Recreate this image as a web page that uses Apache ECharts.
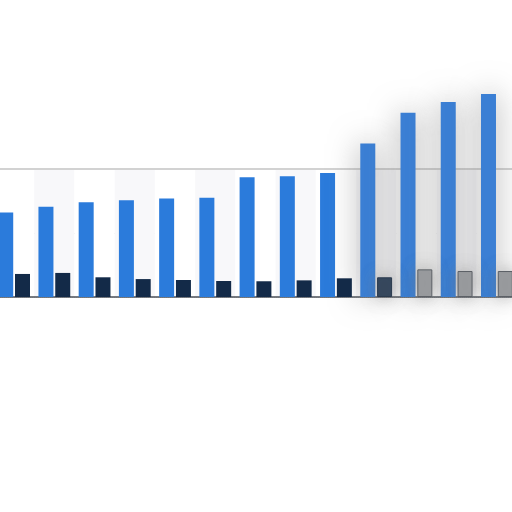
<!DOCTYPE html>
<html>
<head>
<meta charset="utf-8">
<script src="https://cdn.jsdelivr.net/npm/echarts@6/dist/echarts.min.js"></script>
<style>
  html, body { margin: 0; padding: 0; background: #fff; overflow: hidden; }
  #chart { width: 523px; height: 512px; margin-left: -6px; }
</style>
</head>
<body>
<div id="chart"></div>
<script>
// categories and values
var categories = ['1', '2', '3', '4', '5', '6', '7', '8', '9', '10', '11', '12', '13'];
var blueValues = [66, 70.5, 74, 75.5, 77, 77.6, 93.5, 94.3, 96.9, 120, 144, 152.3, 158.6];
var darkValues = [18, 18.8, 15.4, 14, 13.3, 12.5, 12.3, 13, 14.6, 15.4, 21.6, 20.3, 20.3];
var yTicks = [0, 50, 100];

var blurFrom = 9; // bars from here on sit in the grey smudge

var myChart = echarts.init(document.getElementById('chart'));

var blueData = blueValues.map(function(v, i) {
    if (i < blurFrom) return v;
    return {
        value: v,
        itemStyle: { color: '#3b7fd4', shadowBlur: 30, shadowColor: 'rgba(125,125,125,0.65)' }
    };
});
var darkData = darkValues.map(function(v, i) {
    if (i < blurFrom) return v;
    return {
        value: v,
        itemStyle: {
            color: i === blurFrom ? '#34465c' : '#9a9c9f',
            borderColor: i === blurFrom ? '#2a3a4e' : '#5c6066',
            borderWidth: 1,
            shadowBlur: 16,
            shadowColor: 'rgba(120,120,120,0.55)'
        }
    };
});

var option = {
    animation: false,
    grid: { left: 0, right: 0, top: 169, bottom: 215 },
    xAxis: [{
        type: 'category',
        data: categories,
        axisLine: { lineStyle: { color: '#4a4f57', width: 1.5 } },
        axisTick: { show: false },
        axisLabel: { show: false },
        splitArea: { show: true, areaStyle: { color: ['#ffffff', '#f8f8fa'] } }
    }, {
        type: 'category',
        position: 'top',
        data: categories,
        axisLine: { lineStyle: { color: '#d2d2d2', width: 2 } },
        axisTick: { show: false },
        axisLabel: { show: false }
    }],
    yAxis: {
        type: 'value',
        min: yTicks[0],
        max: yTicks[yTicks.length - 1],
        interval: yTicks[1] - yTicks[0],
        axisLine: { show: false },
        axisTick: { show: false },
        axisLabel: { show: false },
        splitLine: { lineStyle: { color: '#dddddd', type: 'dotted' } }
    },
    series: [{
        type: 'bar',
        data: blueData,
        barWidth: 15,
        barGap: '12%',
        clip: false,
        itemStyle: { color: '#2b7bdb' }
    }, {
        type: 'bar',
        data: darkData,
        barWidth: 15,
        clip: false,
        itemStyle: { color: '#132a48' }
    }]
};
myChart.setOption(option);
</script>
</body>
</html>
